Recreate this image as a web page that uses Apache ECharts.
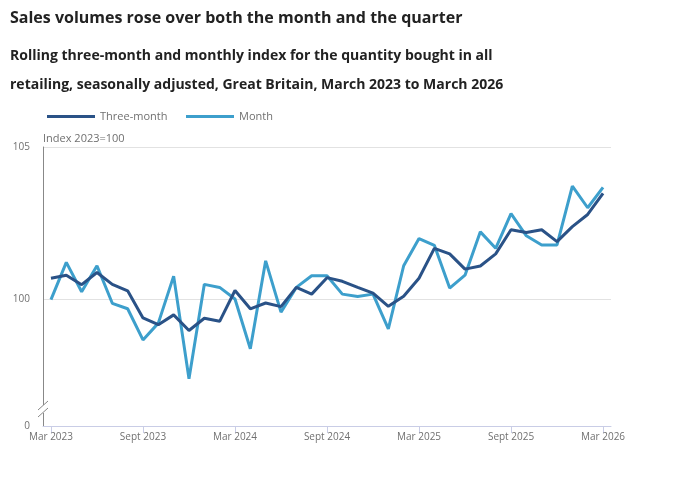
<!DOCTYPE html>
<html><head><meta charset="utf-8">
<script src="https://cdn.jsdelivr.net/npm/echarts@6/dist/echarts.min.js"></script>
<style>html,body{margin:0;padding:0;background:#fff}#c{width:680px;height:478px}</style>
</head><body><div id="c"></div>
<script>
var months = ['Mar 2023','Apr 2023','May 2023','Jun 2023','Jul 2023','Aug 2023','Sept 2023','Oct 2023','Nov 2023','Dec 2023','Jan 2024','Feb 2024','Mar 2024','Apr 2024','May 2024','Jun 2024','Jul 2024','Aug 2024','Sept 2024','Oct 2024','Nov 2024','Dec 2024','Jan 2025','Feb 2025','Mar 2025','Apr 2025','May 2025','Jun 2025','Jul 2025','Aug 2025','Sept 2025','Oct 2025','Nov 2025','Dec 2025','Jan 2026','Feb 2026','Mar 2026'];
var threeMonth = [100.70,100.80,100.49,100.89,100.50,100.29,99.40,99.18,99.50,98.99,99.39,99.29,100.30,99.70,99.89,99.77,100.40,100.18,100.72,100.60,100.40,100.21,99.78,100.11,100.70,101.68,101.50,101.00,101.10,101.50,102.29,102.20,102.29,101.90,102.39,102.79,103.48];
var month = [100.00,101.22,100.26,101.11,99.88,99.70,98.68,99.23,100.77,97.41,100.50,100.40,100.02,98.39,101.27,99.59,100.40,100.78,100.78,100.18,100.10,100.18,99.04,101.11,102.00,101.78,100.38,100.80,102.22,101.68,102.82,102.09,101.79,101.79,103.72,103.01,103.68];
var xTickLabels = {0:'Mar 2023',6:'Sept 2023',12:'Mar 2024',18:'Sept 2024',24:'Mar 2025',30:'Sept 2025',36:'Mar 2026'};
var yMin = 95.86, yMax = 105;
var yTicks = [yMin, 100, 105];

function pairs(arr){ return arr.map(function(v,i){ return [i, v]; }); }

var chart = echarts.init(document.getElementById('c'), null, {renderer:'canvas'});
var font = '"Open Sans", "Noto Sans", sans-serif';
var legendBase = {top:106, itemWidth:48, itemHeight:3, icon:'rect',
    textStyle:{color:'#707070', fontSize:11, fontFamily:font}};
chart.setOption({
  animation:false,
  textStyle:{fontFamily:font},
  title:[
    {text:'Sales volumes rose over both the month and the quarter', left:5, top:5,
     textStyle:{fontSize:16, fontWeight:'bold', color:'#222222', fontFamily:font}},
    {text:'Rolling three-month and monthly index for the quantity bought in all\nretailing, seasonally adjusted, Great Britain, March 2023 to March 2026',
     left:5, top:37, textStyle:{fontSize:14, fontWeight:'bold', color:'#222222', lineHeight:29, fontFamily:font}}
  ],
  legend:[
    Object.assign({left:42, data:['Three-month']}, legendBase),
    Object.assign({left:181, data:['Month']}, legendBase)
  ],
  grid:{left:43, right:69, top:147, bottom:52, containLabel:false},
  xAxis:{type:'value', min:-0.52, max:36.52,
    axisLine:{show:true, onZero:false, lineStyle:{color:'#c9cde6', width:1}},
    axisTick:{show:true, length:7, lineStyle:{color:'#c9cde6'}, customValues:[0,6,12,18,24,30,36]},
    axisLabel:{color:'#707070', fontSize:10, margin:6, customValues:[0,6,12,18,24,30,36],
      formatter:function(v){ return xTickLabels[Math.round(v)] || ''; }},
    splitLine:{show:false}},
  yAxis:{type:'value', min:yMin, max:yMax,
    axisLine:{show:true, onZero:false, lineStyle:{color:'#888888', width:1}},
    axisTick:{show:false, customValues:yTicks},
    axisLabel:{color:'#707070', fontSize:10, margin:13, customValues:yTicks,
      formatter:function(v){ return v < 99 ? '0' : String(Math.round(v)); }},
    splitLine:{show:true, lineStyle:{color:'#e2e2e2', width:1}}},
  graphic:[
    {type:'text', left:43, top:133, style:{text:'Index 2023=100', fill:'#707070', font:'11px '+font}},
    {type:'rect', shape:{x:40, y:405, width:6, height:8}, style:{fill:'#ffffff'}, z:100},
    {type:'line', shape:{x1:38, y1:410, x2:48, y2:401}, style:{stroke:'#888888', lineWidth:1}, z:101},
    {type:'line', shape:{x1:38, y1:417, x2:48, y2:408}, style:{stroke:'#888888', lineWidth:1}, z:101}
  ],
  series:[
    {name:'Three-month', type:'line', data:pairs(threeMonth), showSymbol:false, symbol:'none',
     lineStyle:{color:'#2a5287', width:3}, itemStyle:{color:'#2a5287'}, z:3},
    {name:'Month', type:'line', data:pairs(month), showSymbol:false, symbol:'none',
     lineStyle:{color:'#3d9fcc', width:3}, itemStyle:{color:'#3d9fcc'}, z:2}
  ]
});
</script></body></html>
